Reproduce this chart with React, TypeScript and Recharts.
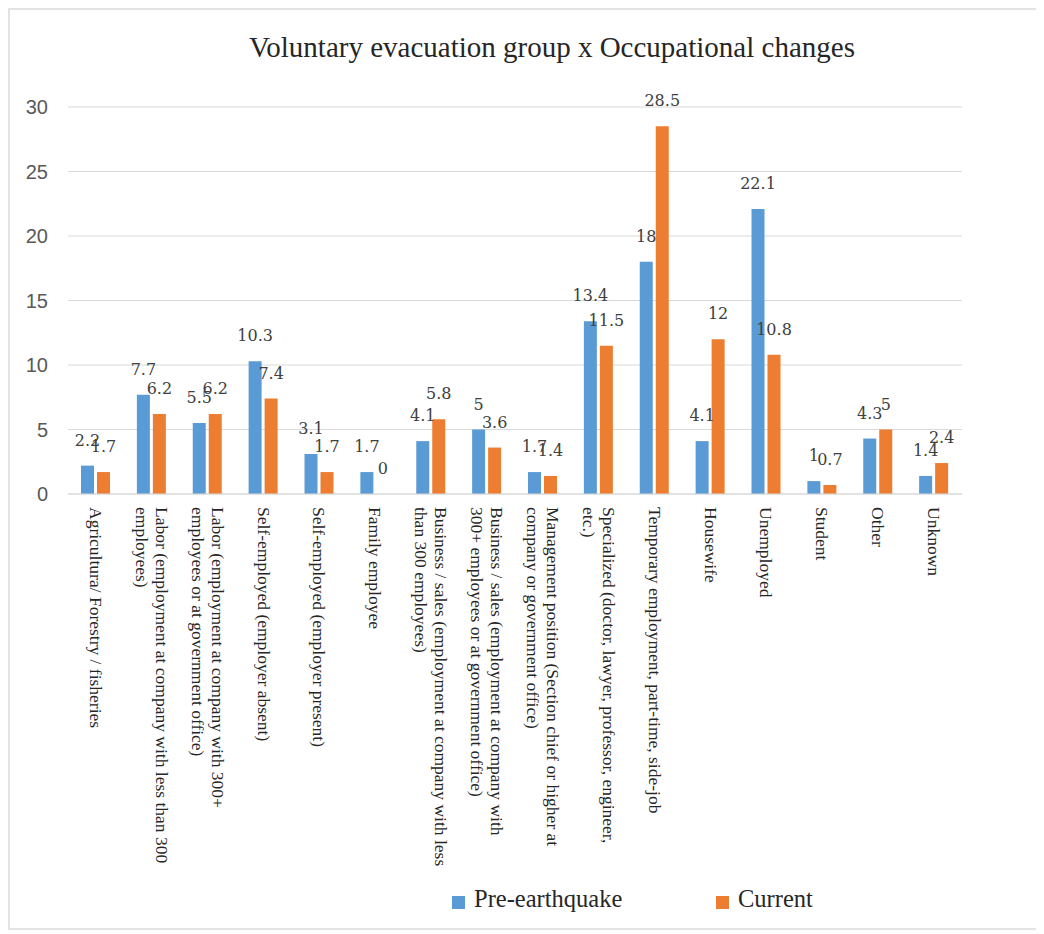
import React from 'react';
import { BarChart, Bar, XAxis, YAxis, CartesianGrid, LabelList, Legend } from 'recharts';

const categories = [
  'Agricultura/ Forestry / fisheries',
  'Labor (employment at company with less than 300\nemployees)',
  'Labor (employment at company with 300+\nemployees or at government office)',
  'Self-employed (employer absent)',
  'Self-employed (employer present)',
  'Family employee',
  'Business / sales (employment at company with less\nthan 300 employees)',
  'Business / sales (employment at company with\n300+ employees or at government office)',
  'Management position (Section chief or higher at\ncompany or government office)',
  'Specialized (doctor, lawyer, professor, engineer,\netc.)',
  'Temporary employment, part-time, side-job',
  'Housewife',
  'Unemployed',
  'Student',
  'Other',
  'Unknown',
];

const preEarthquake = [2.2, 7.7, 5.5, 10.3, 3.1, 1.7, 4.1, 5, 1.7, 13.4, 18, 4.1, 22.1, 1, 4.3, 1.4];
const current = [1.7, 6.2, 6.2, 7.4, 1.7, 0, 5.8, 3.6, 1.4, 11.5, 28.5, 12, 10.8, 0.7, 5, 2.4];

const yTicks = [0, 5, 10, 15, 20, 25, 30];
const seriesNames = ['Pre-earthquake', 'Current'];
const seriesColors = ['#5B9BD5', '#ED7D31'];
const title = 'Voluntary evacuation group x Occupational changes';

const data = categories.map((c, i) => ({ category: c, pre: preEarthquake[i], cur: current[i] }));

const SERIF = "'Liberation Serif', 'Times New Roman', serif";

function CategoryTick(props: any) {
  const { x, y, payload } = props;
  const lines = String(payload.value).split('\n');
  const n = lines.length;
  const y0 = y + 13;
  return (
    <text
      transform={`rotate(90, ${x}, ${y0})`}
      fontFamily={SERIF}
      fontSize={17.5}
      fill="#262626"
      dominantBaseline="central"
      textAnchor="start"
    >
      {lines.map((l, i) => (
        <tspan key={i} x={x} y={y0 + (i - (n - 1) / 2) * 20}>
          {l}
        </tspan>
      ))}
    </text>
  );
}

function ValueLabel(props: any) {
  const { x, y, width, height, value } = props;
  const top = Math.min(Number(y), Number(y) + Number(height || 0));
  return (
    <text
      x={Number(x) + Number(width) / 2}
      y={top - 20}
      textAnchor="middle"
      fontSize={16}
      fill="#404040"
      fontFamily="'DejaVu Serif', serif"
    >
      {String(value)}
    </text>
  );
}

function LegendContent() {
  const items = [
    { name: seriesNames[0], color: seriesColors[0], left: 444 },
    { name: seriesNames[1], color: seriesColors[1], left: 708 },
  ];
  return (
    <div style={{ position: 'relative', width: 1036, height: 40 }}>
      {items.map((it) => (
        <div key={it.name} style={{ position: 'absolute', left: it.left, top: 0, height: 40 }}>
          <div
            style={{
              position: 'absolute',
              left: 0,
              top: 4,
              width: 13,
              height: 13,
              background: it.color,
            }}
          />
          <span
            style={{
              position: 'absolute',
              left: 22,
              top: -8,
              whiteSpace: 'nowrap',
              fontFamily: SERIF,
              fontSize: 24.5,
              lineHeight: '30px',
              color: '#262626',
            }}
          >
            {it.name}
          </span>
        </div>
      ))}
    </div>
  );
}

const tinyForZero = (value: any) => (Number(value) === 0 ? 0.01 : 0);

export default function App() {
  return (
    <div style={{ position: 'relative', width: 1036, height: 924 }}>
      <div
        style={{
          position: 'absolute',
          left: 0,
          top: 0,
          width: 1036,
          height: 922,
          borderTop: '2px solid #e3e3e3',
          borderLeft: '2px solid #e3e3e3',
          borderBottom: '2px solid #e3e3e3',
          boxSizing: 'border-box',
          pointerEvents: 'none',
        }}
      />
      <div
        style={{
          position: 'absolute',
          left: 144,
          top: 22,
          width: 800,
          textAlign: 'center',
          fontFamily: SERIF,
          fontSize: 29,
          lineHeight: '34px',
          color: '#262626',
          whiteSpace: 'nowrap',
        }}
      >
        {title}
      </div>
      <BarChart
        width={1036}
        height={924}
        data={data}
        margin={{ top: 99, right: 82, left: 0, bottom: 0 }}
        barSize={13}
        barGap={3}
      >
        <CartesianGrid vertical={false} stroke="#d9d9d9" />
        <XAxis
          dataKey="category"
          height={398}
          interval={0}
          tick={<CategoryTick />}
          tickLine={false}
          tickSize={0}
          tickMargin={0}
          axisLine={{ stroke: '#d9d9d9' }}
        />
        <YAxis
          width={60}
          domain={[0, 30]}
          ticks={yTicks}
          axisLine={false}
          tickLine={false}
          tickSize={0}
          tickMargin={20}
          tick={{ fontSize: 20, fill: '#595959', fontFamily: "'Liberation Sans', Arial, sans-serif" }}
        />
        <Legend
          verticalAlign="bottom"
          content={<LegendContent />}
          wrapperStyle={{ left: 0, width: 1036, height: 40 }}
        />
        <Bar dataKey="pre" name={seriesNames[0]} fill={seriesColors[0]} minPointSize={tinyForZero} isAnimationActive={false}>
          <LabelList dataKey="pre" content={<ValueLabel />} />
        </Bar>
        <Bar dataKey="cur" name={seriesNames[1]} fill={seriesColors[1]} minPointSize={tinyForZero} isAnimationActive={false}>
          <LabelList dataKey="cur" content={<ValueLabel />} />
        </Bar>
      </BarChart>
    </div>
  );
}
